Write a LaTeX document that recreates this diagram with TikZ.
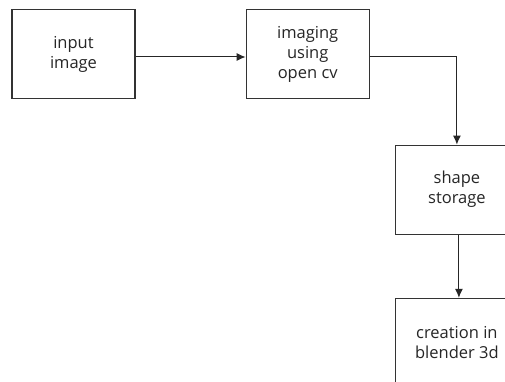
\documentclass[tikz,border=0pt]{standalone}
\usepackage{fontspec}
\setmainfont{Open Sans}
\usetikzlibrary{positioning,arrows.meta}
\tikzset{
  stepbox/.style={draw=black!80, line width=1.2pt, minimum width=123pt, minimum height=89pt,
    inner sep=0pt, align=center, font=\fontsize{16.5}{20}\selectfont, text=black!85},
  flow/.style={draw=black!85, line width=1pt, -{Latex[length=9pt,width=8pt]}}
}
\begin{document}
\begin{tikzpicture}[x=1pt,y=1pt]
  % 画面大小与原图一致,右边和下边的框被裁掉
  \useasboundingbox (0,0) rectangle (505,-382);
  \clip (0,0) rectangle (505,-382);
  \fill[white] (0,0) rectangle (505,-382);
  \node[stepbox] (input) at (73.5,-54) {input\\image};
  \node[stepbox, right=110pt of input] (imaging) {imaging\\using\\open cv};
  \node[stepbox, below right=45.5pt and 25pt of imaging] (storage) {shape\\storage};
  \node[stepbox, below=63pt of storage] (creation) {creation in\\blender 3d};
  % 箭头,稍微错开中心线
  \draw[flow] ([yshift=-3pt]input.east) -- ([yshift=-3pt]imaging.west);
  \draw[flow] ([yshift=-3pt]imaging.east) -| (storage.north);
  \draw[flow] ([xshift=2pt]storage.south) -- ([xshift=2pt]creation.north);
\end{tikzpicture}
\end{document}
